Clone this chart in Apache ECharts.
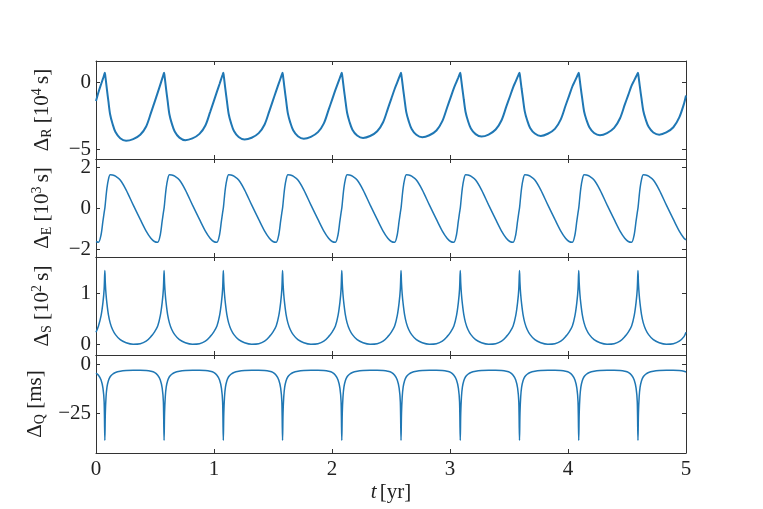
<!DOCTYPE html>
<html><head><meta charset="utf-8">
<script src="https://cdn.jsdelivr.net/npm/echarts@6/dist/echarts.min.js"></script>
<style>html,body{margin:0;padding:0;background:#fff}#c{width:763px;height:509px}</style>
</head><body><div id="c"></div>
<script>
// time samples [yr]
const t = [
0, 0.021, 0.043, 0.059, 0.069,
0.075, 0.079, 0.085, 0.093, 0.105, 0.12, 0.14, 0.165, 0.205, 0.255, 0.315, 0.375, 0.425, 0.465, 0.495, 0.523, 0.545, 0.561, 0.571,
0.577, 0.581, 0.587, 0.595, 0.607, 0.622, 0.642, 0.667, 0.707, 0.757, 0.817, 0.877, 0.927, 0.967, 0.997, 1.025, 1.047, 1.063, 1.073,
1.079, 1.083, 1.089, 1.097, 1.109, 1.124, 1.144, 1.169, 1.209, 1.259, 1.319, 1.379, 1.429, 1.469, 1.499, 1.527, 1.549, 1.565, 1.575,
1.581, 1.585, 1.591, 1.599, 1.611, 1.626, 1.646, 1.671, 1.711, 1.761, 1.821, 1.881, 1.931, 1.971, 2.001, 2.029, 2.051, 2.067, 2.077,
2.083, 2.087, 2.093, 2.101, 2.113, 2.128, 2.148, 2.173, 2.213, 2.263, 2.323, 2.383, 2.433, 2.473, 2.503, 2.531, 2.553, 2.569, 2.579,
2.585, 2.589, 2.595, 2.603, 2.615, 2.63, 2.65, 2.675, 2.715, 2.765, 2.825, 2.885, 2.935, 2.975, 3.005, 3.033, 3.055, 3.071, 3.081,
3.087, 3.091, 3.097, 3.105, 3.117, 3.132, 3.152, 3.177, 3.217, 3.267, 3.327, 3.387, 3.437, 3.477, 3.507, 3.535, 3.557, 3.573, 3.583,
3.589, 3.593, 3.599, 3.607, 3.619, 3.634, 3.654, 3.679, 3.719, 3.769, 3.829, 3.889, 3.939, 3.979, 4.009, 4.037, 4.059, 4.075, 4.085,
4.091, 4.095, 4.101, 4.109, 4.121, 4.136, 4.156, 4.181, 4.221, 4.271, 4.331, 4.391, 4.441, 4.481, 4.511, 4.539, 4.561, 4.577, 4.587,
4.593, 4.597, 4.603, 4.611, 4.623, 4.638, 4.658, 4.683, 4.723, 4.773, 4.833, 4.893, 4.943, 4.983, 5.0
];
// Roemer delay [10^4 s]
const deltaR = [
-1.39, -0.72, -0.12, 0.3, 0.58,
0.75, 0.5, 0.05, -0.55, -1.4, -2.4, -3.1, -3.72, -4.18, -4.37, -4.25, -3.92, -3.3, -2.3, -1.5, -0.75, -0.15, 0.3, 0.58,
0.75, 0.5, 0.06, -0.54, -1.38, -2.38, -3.07, -3.68, -4.14, -4.33, -4.2, -3.86, -3.23, -2.22, -1.43, -0.68, -0.1, 0.33, 0.59,
0.75, 0.5, 0.06, -0.53, -1.36, -2.34, -3.03, -3.64, -4.09, -4.28, -4.15, -3.8, -3.15, -2.14, -1.35, -0.62, -0.06, 0.35, 0.6,
0.75, 0.51, 0.07, -0.51, -1.34, -2.31, -2.99, -3.59, -4.04, -4.22, -4.08, -3.73, -3.07, -2.05, -1.28, -0.55, -0.02, 0.37, 0.61,
0.75, 0.51, 0.08, -0.5, -1.31, -2.27, -2.94, -3.54, -3.98, -4.16, -4.02, -3.66, -2.98, -1.97, -1.2, -0.48, 0.02, 0.39, 0.61,
0.75, 0.51, 0.09, -0.48, -1.29, -2.24, -2.9, -3.49, -3.93, -4.11, -3.96, -3.6, -2.9, -1.89, -1.13, -0.42, 0.06, 0.4, 0.62,
0.75, 0.52, 0.09, -0.47, -1.27, -2.21, -2.87, -3.45, -3.88, -4.06, -3.91, -3.53, -2.83, -1.81, -1.06, -0.35, 0.1, 0.43, 0.63,
0.75, 0.52, 0.1, -0.46, -1.25, -2.18, -2.83, -3.41, -3.83, -4.01, -3.85, -3.48, -2.76, -1.74, -0.99, -0.29, 0.13, 0.44, 0.63,
0.75, 0.52, 0.11, -0.45, -1.23, -2.15, -2.79, -3.36, -3.79, -3.96, -3.8, -3.41, -2.68, -1.66, -0.92, -0.23, 0.17, 0.46, 0.64,
0.75, 0.52, 0.11, -0.44, -1.21, -2.12, -2.76, -3.33, -3.75, -3.92, -3.75, -3.36, -2.62, -1.59, -0.97
];
// Einstein delay [10^3 s]
const deltaE = [
-1.63, -1.67, -1.3, -0.62, -0.22,
0, 0.22, 0.58, 1.0, 1.4, 1.64, 1.63, 1.57, 1.38, 0.9, 0.16, -0.55, -1.12, -1.47, -1.63, -1.67, -1.3, -0.62, -0.22,
0, 0.22, 0.58, 1.0, 1.4, 1.64, 1.63, 1.57, 1.38, 0.9, 0.16, -0.55, -1.12, -1.47, -1.63, -1.67, -1.3, -0.62, -0.22,
0, 0.22, 0.58, 1.0, 1.4, 1.64, 1.63, 1.57, 1.38, 0.9, 0.16, -0.55, -1.12, -1.47, -1.63, -1.67, -1.3, -0.62, -0.22,
0, 0.22, 0.58, 1.0, 1.4, 1.64, 1.63, 1.57, 1.38, 0.9, 0.16, -0.55, -1.12, -1.47, -1.63, -1.67, -1.3, -0.62, -0.22,
0, 0.22, 0.58, 1.0, 1.4, 1.64, 1.63, 1.57, 1.38, 0.9, 0.16, -0.55, -1.12, -1.47, -1.63, -1.67, -1.3, -0.62, -0.22,
0, 0.22, 0.58, 1.0, 1.4, 1.64, 1.63, 1.57, 1.38, 0.9, 0.16, -0.55, -1.12, -1.47, -1.63, -1.67, -1.3, -0.62, -0.22,
0, 0.22, 0.58, 1.0, 1.4, 1.64, 1.63, 1.57, 1.38, 0.9, 0.16, -0.55, -1.12, -1.47, -1.63, -1.67, -1.3, -0.62, -0.22,
0, 0.22, 0.58, 1.0, 1.4, 1.64, 1.63, 1.57, 1.38, 0.9, 0.16, -0.55, -1.12, -1.47, -1.63, -1.67, -1.3, -0.62, -0.22,
0, 0.22, 0.58, 1.0, 1.4, 1.64, 1.63, 1.57, 1.38, 0.9, 0.16, -0.55, -1.12, -1.47, -1.63, -1.67, -1.3, -0.62, -0.22,
0, 0.22, 0.58, 1.0, 1.4, 1.64, 1.63, 1.57, 1.38, 0.9, 0.16, -0.55, -1.12, -1.47, -1.55
];
// Shapiro delay [10^2 s]
const deltaS = [
0.235, 0.36, 0.56, 0.82, 1.08,
1.445, 1.2, 0.98, 0.79, 0.58, 0.42, 0.29, 0.19, 0.09, 0.03, 0.0, 0.01, 0.06, 0.15, 0.24, 0.36, 0.56, 0.82, 1.08,
1.445, 1.2, 0.98, 0.79, 0.58, 0.42, 0.29, 0.19, 0.09, 0.03, 0.0, 0.01, 0.06, 0.15, 0.24, 0.36, 0.56, 0.82, 1.08,
1.445, 1.2, 0.98, 0.79, 0.58, 0.42, 0.29, 0.19, 0.09, 0.03, 0.0, 0.01, 0.06, 0.15, 0.24, 0.36, 0.56, 0.82, 1.08,
1.445, 1.2, 0.98, 0.79, 0.58, 0.42, 0.29, 0.19, 0.09, 0.03, 0.0, 0.01, 0.06, 0.15, 0.24, 0.36, 0.56, 0.82, 1.08,
1.445, 1.2, 0.98, 0.79, 0.58, 0.42, 0.29, 0.19, 0.09, 0.03, 0.0, 0.01, 0.06, 0.15, 0.24, 0.36, 0.56, 0.82, 1.08,
1.445, 1.2, 0.98, 0.79, 0.58, 0.42, 0.29, 0.19, 0.09, 0.03, 0.0, 0.01, 0.06, 0.15, 0.24, 0.36, 0.56, 0.82, 1.08,
1.445, 1.2, 0.98, 0.79, 0.58, 0.42, 0.29, 0.19, 0.09, 0.03, 0.0, 0.01, 0.06, 0.15, 0.24, 0.36, 0.56, 0.82, 1.08,
1.445, 1.2, 0.98, 0.79, 0.58, 0.42, 0.29, 0.19, 0.09, 0.03, 0.0, 0.01, 0.06, 0.15, 0.24, 0.36, 0.56, 0.82, 1.08,
1.445, 1.2, 0.98, 0.79, 0.58, 0.42, 0.29, 0.19, 0.09, 0.03, 0.0, 0.01, 0.06, 0.15, 0.24, 0.36, 0.56, 0.82, 1.08,
1.445, 1.2, 0.98, 0.79, 0.58, 0.42, 0.29, 0.19, 0.09, 0.03, 0.0, 0.01, 0.06, 0.15, 0.235
];
// Q delay [ms]
const deltaQ = [
-4.3, -5.4, -7.8, -12, -19,
-38.7, -25, -16.5, -11.5, -8.2, -6.2, -4.9, -4.0, -3.4, -3.05, -2.9, -2.9, -3.05, -3.4, -3.95, -5.4, -7.8, -12, -19,
-38.7, -25, -16.5, -11.5, -8.2, -6.2, -4.9, -4.0, -3.4, -3.05, -2.9, -2.9, -3.05, -3.4, -3.95, -5.4, -7.8, -12, -19,
-38.7, -25, -16.5, -11.5, -8.2, -6.2, -4.9, -4.0, -3.4, -3.05, -2.9, -2.9, -3.05, -3.4, -3.95, -5.4, -7.8, -12, -19,
-38.7, -25, -16.5, -11.5, -8.2, -6.2, -4.9, -4.0, -3.4, -3.05, -2.9, -2.9, -3.05, -3.4, -3.95, -5.4, -7.8, -12, -19,
-38.7, -25, -16.5, -11.5, -8.2, -6.2, -4.9, -4.0, -3.4, -3.05, -2.9, -2.9, -3.05, -3.4, -3.95, -5.4, -7.8, -12, -19,
-38.7, -25, -16.5, -11.5, -8.2, -6.2, -4.9, -4.0, -3.4, -3.05, -2.9, -2.9, -3.05, -3.4, -3.95, -5.4, -7.8, -12, -19,
-38.7, -25, -16.5, -11.5, -8.2, -6.2, -4.9, -4.0, -3.4, -3.05, -2.9, -2.9, -3.05, -3.4, -3.95, -5.4, -7.8, -12, -19,
-38.7, -25, -16.5, -11.5, -8.2, -6.2, -4.9, -4.0, -3.4, -3.05, -2.9, -2.9, -3.05, -3.4, -3.95, -5.4, -7.8, -12, -19,
-38.7, -25, -16.5, -11.5, -8.2, -6.2, -4.9, -4.0, -3.4, -3.05, -2.9, -2.9, -3.05, -3.4, -3.95, -5.4, -7.8, -12, -19,
-38.7, -25, -16.5, -11.5, -8.2, -6.2, -4.9, -4.0, -3.4, -3.05, -2.9, -2.9, -3.05, -3.4, -3.75
];
const xTicks = [0, 1, 2, 3, 4, 5];
const ticksR = [-5, 0];
const ticksE = [-2, 0, 2];
const ticksS = [0, 1];
const ticksQ = [-25, 0];

const FONT = 'Liberation Serif';
const AX = '#333';
const panels = [
  {label: '{m|Δ}{sub|R}{m| [10}{sup|4}{m|\u2009s]}', data: deltaR, ticks: ticksR, min: -5.75, max: 1.63, lw: 2},
  {label: '{m|Δ}{sub|E}{m| [10}{sup|3}{m|\u2009s]}', data: deltaE, ticks: ticksE, min: -2.39, max: 2.41, lw: 1.5},
  {label: '{m|Δ}{sub|S}{m| [10}{sup|2}{m|\u2009s]}', data: deltaS, ticks: ticksS, min: -0.21, max: 1.71, lw: 1.5},
  {label: '{m|Δ}{sub|Q}{m| [ms]}', data: deltaQ, ticks: ticksQ, min: -45.1, max: 4.9, lw: 1.5}
];
const tops = [61, 159, 257, 355];
const rich = {
  m: {fontFamily: FONT, fontSize: 21, color: '#222'},
  sub: {fontFamily: FONT, fontSize: 14, color: '#222', padding: [10, 0, 0, 0]},
  sup: {fontFamily: FONT, fontSize: 14, color: '#222', padding: [0, 0, 10, 0]}
};
const fmt = v => (v < 0 ? '\u2212' + Math.abs(v) : String(v));

const grid = [], xAxis = [], yAxis = [], series = [];
panels.forEach((p, i) => {
  grid.push({left: 96, right: 77, top: tops[i], height: 98});
  const last = i === panels.length - 1;
  const tickBase = {show: true, inside: true, length: 4, lineStyle: {color: AX, width: 1}};
  const line = {show: true, onZero: false, lineStyle: {color: AX, width: 1}};
  xAxis.push({
    gridIndex: i, type: 'value', min: 0, max: 5, interval: 1, position: 'bottom',
    axisLine: line,
    axisTick: Object.assign({}, tickBase, {customValues: xTicks}),
    axisLabel: {show: last, customValues: xTicks, margin: 6, fontFamily: FONT, fontSize: 21, color: '#222', formatter: fmt},
    splitLine: {show: false},
    name: last ? '{i|t} {m|[yr]}' : '', nameLocation: 'middle', nameGap: 29,
    nameTextStyle: {rich: {i: {fontFamily: FONT, fontSize: 21, fontStyle: 'italic', color: '#222'}, m: {fontFamily: FONT, fontSize: 21, color: '#222'}}}
  });
  xAxis.push({
    gridIndex: i, type: 'value', min: 0, max: 5, interval: 1, position: 'top',
    axisLine: line,
    axisTick: Object.assign({}, tickBase, {customValues: xTicks}),
    axisLabel: {show: false}, splitLine: {show: false}
  });
  yAxis.push({
    gridIndex: i, type: 'value', min: p.min, max: p.max, position: 'left',
    axisLine: line,
    axisTick: Object.assign({}, tickBase, {customValues: p.ticks}),
    axisLabel: {customValues: p.ticks, margin: 5, fontFamily: FONT, fontSize: 21, color: '#222', formatter: fmt},
    splitLine: {show: false},
    name: p.label, nameLocation: 'middle', nameRotate: 90, nameGap: 42,
    nameTextStyle: {rich: rich}
  });
  yAxis.push({
    gridIndex: i, type: 'value', min: p.min, max: p.max, position: 'right',
    axisLine: line,
    axisTick: Object.assign({}, tickBase, {customValues: p.ticks}),
    axisLabel: {show: false}, splitLine: {show: false}
  });
  series.push({
    type: 'line', xAxisIndex: 2 * i, yAxisIndex: 2 * i,
    data: t.map((x, k) => [x, p.data[k]]),
    showSymbol: false, smooth: 0.3,
    lineStyle: {color: '#1f77b4', width: p.lw}, itemStyle: {color: '#1f77b4'},
    animation: false
  });
});

const chart = echarts.init(document.getElementById('c'), null, {renderer: 'canvas'});
chart.setOption({backgroundColor: '#fff', animation: false, grid, xAxis, yAxis, series});
</script></body></html>
